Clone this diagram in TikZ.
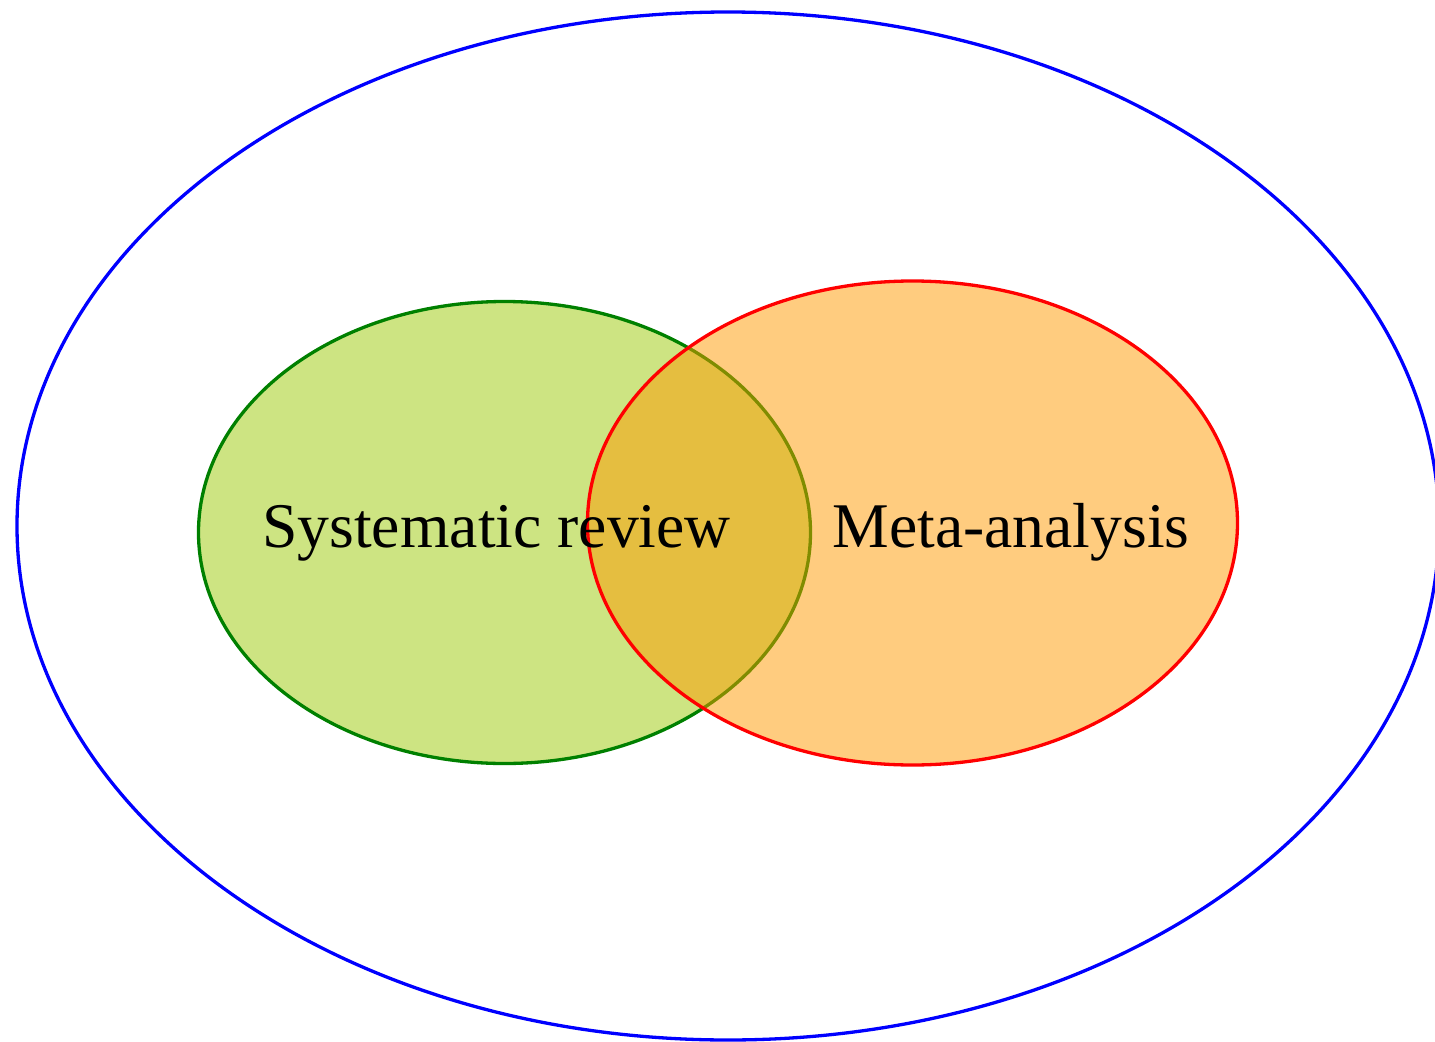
\documentclass[tikz,border=0pt]{standalone}
\usepackage{fontspec}
\setmainfont{Liberation Serif}
\definecolor{gfill}{RGB}{155,201,5}
\definecolor{ofill}{RGB}{255,153,0}
\definecolor{gline}{RGB}{0,128,0}
\begin{document}
\begin{tikzpicture}[x=0.01cm,y=-0.01cm,
  setline/.style={line width=0.033cm},
  lbl/.style={anchor=base,inner sep=0pt,font=\fontsize{18.1}{21}\selectfont}]
\useasboundingbox (0,0) rectangle (1435,1042);
\begin{scope}
\clip (0,0) rectangle (1435,1042);
\draw[setline,blue] (728,526) ellipse [x radius=711, y radius=514];
\end{scope}
\draw[setline,gline,fill=gfill,fill opacity=0.5] (504.5,532.5) ellipse [x radius=306, y radius=231];
\draw[setline,red,fill=ofill,fill opacity=0.5] (912.5,523) ellipse [x radius=325, y radius=242];
\node[lbl] (sr) at (496.5,547) {Systematic review};
\node[lbl] (ma) at (1011,547) {Meta-analysis};
\end{tikzpicture}
\end{document}
